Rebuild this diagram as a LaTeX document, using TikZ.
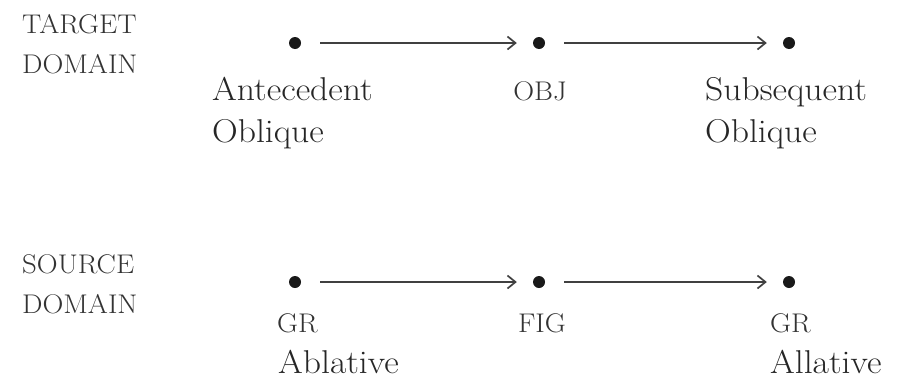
\documentclass[tikz,border=0pt]{standalone}
\usetikzlibrary{arrows.meta}
\usepackage{graphicx}
\newcommand\myw[1]{\scalebox{1.08}[1]{#1}}
\newcommand\mysc[1]{\scalebox{1.07}[1]{#1}}
\begin{document}
\begin{tikzpicture}[x=1pt,y=-1pt,
  dot/.style={circle,fill=black!90,inner sep=0pt,minimum size=12pt},
  main/.style={inner sep=0pt,text=black!85,font=\fontsize{33}{38}\selectfont},
  sc/.style={inner sep=0pt,text=black!80,font=\fontsize{27}{30}\selectfont},
  conn/.style={line width=1.7pt,draw=black!75,-{Straight Barb[length=8pt,width=13pt,line width=1.7pt]},shorten <=19pt,shorten >=16pt}]
\useasboundingbox (0,0) rectangle (897,378);
% domain labels
\node[sc,anchor=base west] (tgt1) at (22,33) {\mysc{TARGET}};
\node[sc,anchor=base west] (tgt2) at (22,73) {\mysc{DOMAIN}};
\node[sc,anchor=base west] (src1) at (22,273) {\mysc{SOURCE}};
\node[sc,anchor=base west] (src2) at (22,313) {\mysc{DOMAIN}};
% dots
\node[dot] (t1) at (295,43) {};
\node[dot] (t2) at (539,43) {};
\node[dot] (t3) at (789,43) {};
\node[dot] (s1) at (295,282) {};
\node[dot] (s2) at (539,282) {};
\node[dot] (s3) at (789,282) {};
% arrows
\draw[conn] (t1) -- (t2);
\draw[conn] (t2) -- (t3);
\draw[conn] (s1) -- (s2);
\draw[conn] (s2) -- (s3);
% target labels
\node[main,anchor=base west] (ant1) at (212,100) {\myw{Antecedent}};
\node[main,anchor=base west] (ant2) at (212,142) {\myw{Oblique}};
\node[sc,anchor=base] (obj) at (540,100) {\mysc{OBJ}};
\node[main,anchor=base west] (sub1) at (705,100) {\myw{Subsequent}};
\node[main,anchor=base west] (sub2) at (705,142) {\myw{Oblique}};
% source labels
\node[sc,anchor=base west] (gr1) at (277,332) {\mysc{GR}};
\node[main,anchor=base west] (abl) at (278,373) {\myw{Ablative}};
\node[sc,anchor=base] (fig) at (542,332) {\mysc{FIG}};
\node[sc,anchor=base west] (gr2) at (770,332) {\mysc{GR}};
\node[main,anchor=base west] (all) at (770,373) {\myw{Allative}};
\end{tikzpicture}
\end{document}
